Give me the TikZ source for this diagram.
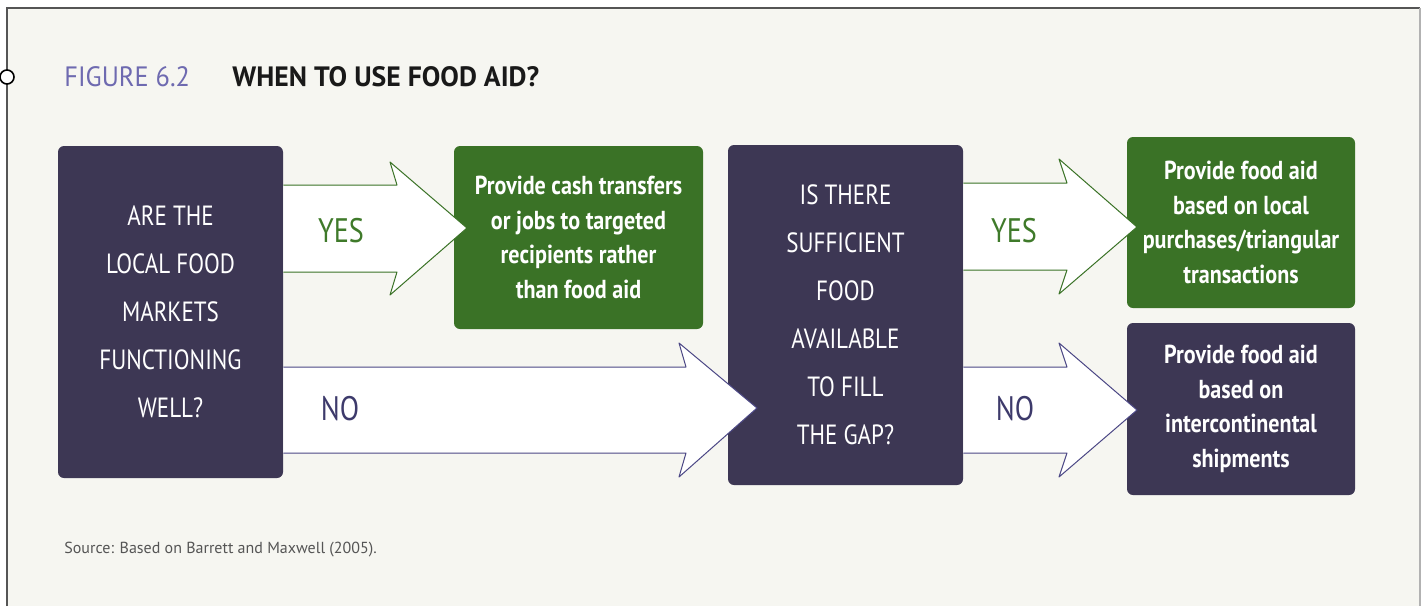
\documentclass[tikz,border=0pt]{standalone}
\usepackage{fontspec}
\setmainfont{PT Sans}
\newfontfamily\condfont[FakeStretch=0.83]{PT Sans}
\newfontfamily\boldcond[FakeStretch=0.85]{PT Sans Bold}
\newfontfamily\titlefont[FakeStretch=0.94]{PT Sans}
\newfontfamily\titlebold[FakeStretch=0.99]{PT Sans Bold}
\definecolor{bgc}{HTML}{F6F6F1}
\definecolor{dpurple}{HTML}{3D3754}
\definecolor{dgreen}{HTML}{3A7226}
\definecolor{lgreen}{HTML}{3F7A2A}
\definecolor{npurple}{HTML}{4B4785}
\definecolor{nolab}{HTML}{3D3A6B}
\definecolor{figpurple}{HTML}{6E6AB0}
\definecolor{framec}{HTML}{555555}
\tikzset{
  qbox/.style={fill=dpurple, rounded corners=3pt, inner sep=0pt, align=center, text=white,
    font=\condfont\fontsize{13.9}{24}\selectfont},
  abox/.style={rounded corners=3pt, inner sep=0pt, align=center, text=white,
    font=\boldcond\fontsize{13}{17.25}\selectfont},
  yesarrow/.style={fill=white, draw=dgreen, line width=0.5pt, line join=round},
  noarrow/.style={fill=white, draw=npurple, line width=0.5pt, line join=round},
  yeslab/.style={text=lgreen, font=\condfont\fontsize{17}{17}\selectfont, inner sep=0pt},
  nolab/.style={text=nolab, font=\condfont\fontsize{17}{17}\selectfont, inner sep=0pt}
}
\begin{document}
\begin{tikzpicture}[x=0.5pt, y=-0.5pt]
\useasboundingbox (0,0) rectangle (1421,606);
\fill[white] (0,0) rectangle (1421,606);
\fill[bgc] (7,8) rectangle (1421,606);
\draw[framec, line width=1pt] (7,606) -- (7,8) -- (1420,8);
\draw[gray!60, line width=0.6pt] (1420,8) -- (1420,606);
\draw[black, fill=white, line width=0.8pt] (7,77) circle[radius=3.5pt];

\node[anchor=base west, inner sep=0pt, text=figpurple, font=\titlefont\fontsize{14}{14}\selectfont] (fig) at (64,86) {FIGURE 6.2};
\node[anchor=base west, inner sep=0pt, text=black!90, font=\titlebold\fontsize{14}{14}\selectfont] (title) at (232,86) {WHEN TO USE FOOD AID?};

\node[qbox, minimum width=112.5pt, minimum height=166pt] (q1) at (170.5,312)
  {ARE THE\\LOCAL FOOD\\MARKETS\\FUNCTIONING\\WELL?};
\node[qbox, minimum width=117.5pt, minimum height=170pt] (q2) at (845.5,315)
  {IS THERE\\SUFFICIENT\\FOOD\\AVAILABLE\\TO FILL\\THE GAP?};
\node[abox, fill=dgreen, minimum width=124.5pt, minimum height=91.5pt] (a1) at (578.5,237.5)
  {Provide cash transfers\\or jobs to targeted\\recipients rather\\than food aid};
\node[abox, fill=dgreen, minimum width=114pt, minimum height=85.5pt] (a2) at (1241,222.5)
  {Provide food aid\\based on local\\purchases/triangular\\transactions};
\node[abox, fill=dpurple, minimum width=114pt, minimum height=86pt] (a3) at (1241,409)
  {Provide food aid\\based on\\intercontinental\\shipments};

% block arrows
\draw[yesarrow] (q1.east |- 0,185) -- (397,185) -- (390,162) -- (467,228) -- (390,295) -- (397,272) -- (q1.east |- 0,272);
\draw[noarrow] (q1.east |- 0,367) -- (686,367) -- (679,343) -- (757,408) -- (679,477) -- (686,453) -- (q1.east |- 0,453);
\draw[yesarrow] (q2.east |- 0,183) -- (1067,183) -- (1059,159) -- (1137,227) -- (1059,294) -- (1067,270) -- (q2.east |- 0,270);
\draw[noarrow] (q2.east |- 0,367) -- (1067,367) -- (1059,343) -- (1137,410) -- (1059,477) -- (1067,453) -- (q2.east |- 0,453);

\node[yeslab] (y1) at (341,231) {YES};
\node[nolab] (n1) at (340,409) {NO};
\node[yeslab] (y2) at (1014,231) {YES};
\node[nolab] (n2) at (1015,409) {NO};

\node[anchor=base west, inner sep=0pt, text=framec, font=\fontsize{8}{8}\selectfont] (src) at (64,553) {Source: Based on Barrett and Maxwell (2005).};
\end{tikzpicture}
\end{document}
